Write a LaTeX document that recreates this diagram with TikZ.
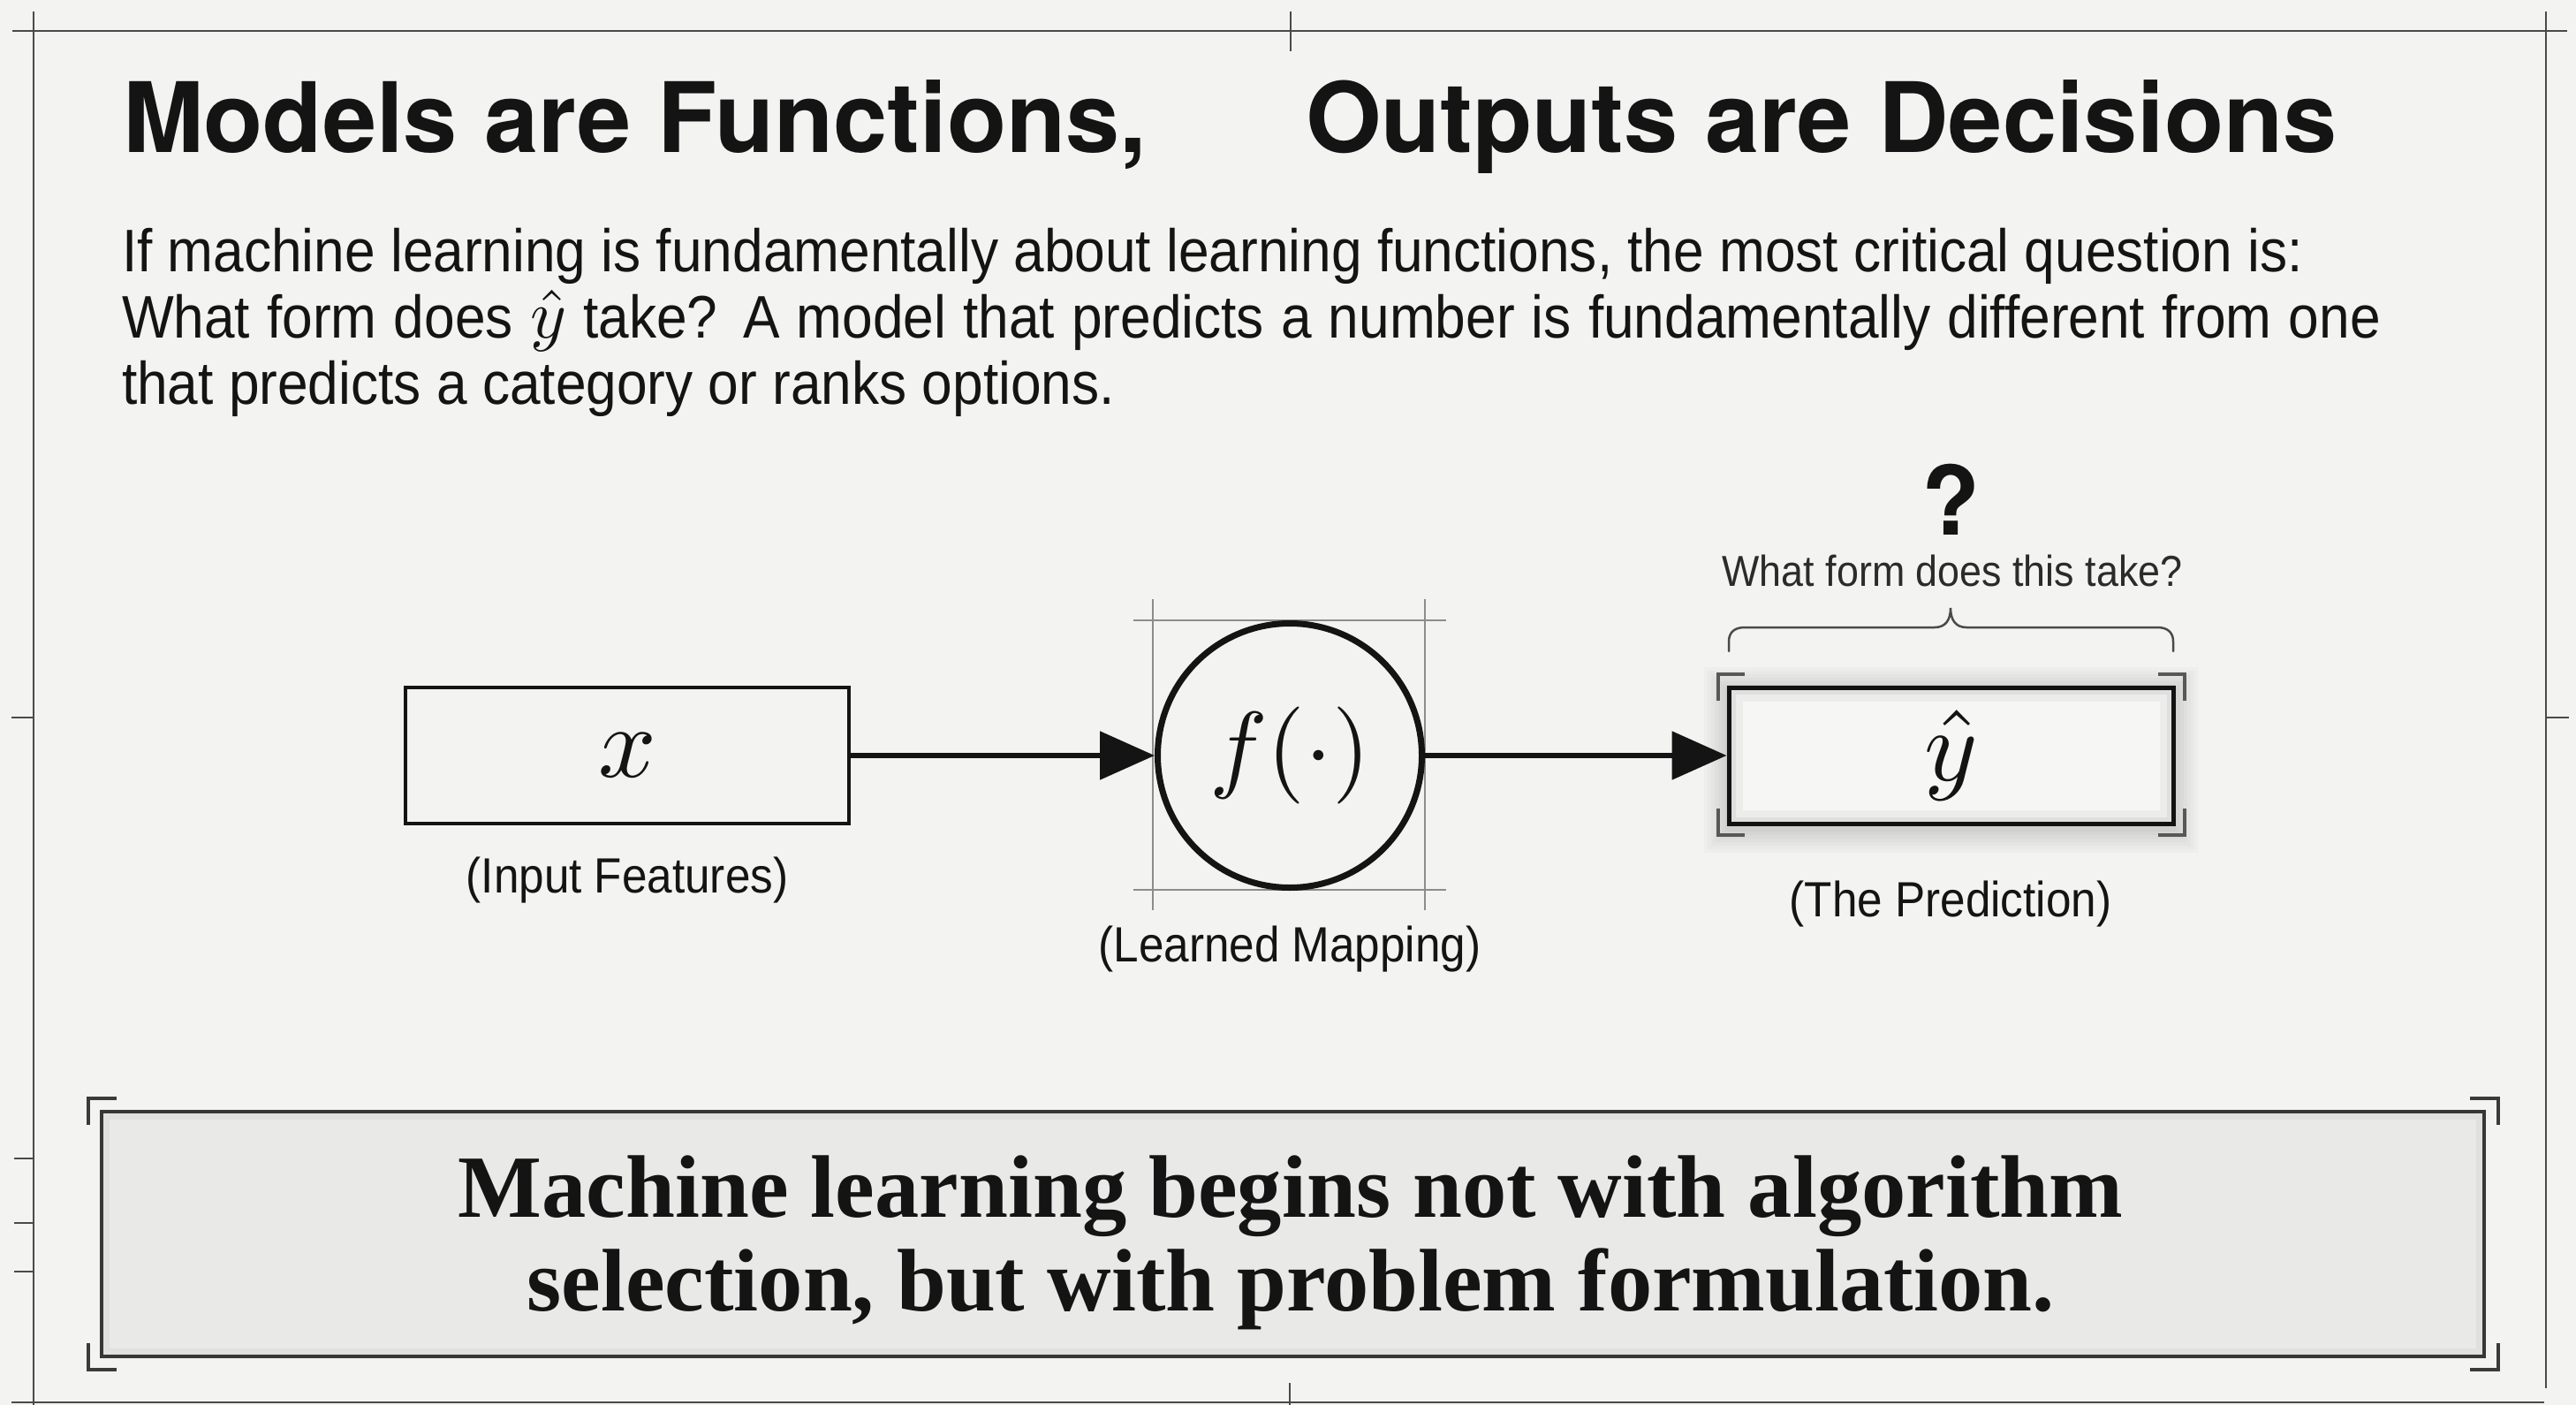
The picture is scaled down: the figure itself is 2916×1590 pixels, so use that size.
\documentclass[tikz,border=0pt]{standalone}
\usepackage{graphicx}
\usepackage{fontspec}
\usetikzlibrary{arrows.meta}
\setmainfont{Liberation Sans}
\newfontfamily\titlefont{TeX Gyre Heros}
\newfontfamily\bodyfont{Liberation Sans}[FakeStretch=0.915]
\newfontfamily\quotefont{Liberation Serif}
\definecolor{bg}{HTML}{F3F3F1}
\definecolor{ink}{HTML}{141414}
\definecolor{framec}{HTML}{4A4A4A}
\definecolor{guidec}{HTML}{8C8C8C}
\definecolor{brk}{HTML}{3A3A3A}
\definecolor{quotebg}{HTML}{E9E9E7}
\definecolor{boxin}{HTML}{F6F6F5}
\definecolor{softink}{HTML}{2B2B2B}
\newcommand\titletext{\titlefont\bfseries\fontsize{110}{120}\selectfont}
\newcommand\bodytext{\bodyfont\fontsize{68}{75}\selectfont}
\newcommand\labeltext{\bodyfont\fontsize{56}{60}\selectfont}
\newcommand\quotetext{\quotefont\bfseries\fontsize{100.5}{106}\selectfont}
\newcommand\scaledmath[2]{\scalebox{#1}{\fontsize{10}{12}\selectfont$#2$}}
\begin{document}
\begin{tikzpicture}[x=1pt,y=-1pt,
  frame/.style={draw=framec, line width=2.5pt},
  guide/.style={draw=guidec, line width=1.6pt},
  bracket/.style={draw=brk, line width=4pt},
  conn/.style={draw=ink, line width=5.5pt, -{Triangle[length=62pt,width=54pt]}},
  txt/.style={inner sep=0pt, outer sep=0pt, text=ink},
]
\fill[bg] (0,0) rectangle (2916,1590);
\useasboundingbox (0,0) rectangle (2916,1590);

% page frame
\draw[frame] (14,35) -- (2906,35);
\draw[frame] (38,13) -- (38,1590);
\draw[frame] (2882,13) -- (2882,1571);
\draw[frame] (13,1587) -- (2880,1587);
\draw[frame] (1461,13) -- (1461,58);
\draw[frame] (1460,1565) -- (1460,1590);
\draw[frame] (13,812) -- (38,812);
\draw[frame] (16,1311) -- (38,1311);
\draw[frame] (16,1384) -- (38,1384);
\draw[frame] (16,1439) -- (38,1439);
\draw[frame] (2882,812) -- (2908,812);

% title
\node[txt, anchor=base west, font=\titletext] (t1) at (139,172) {Models are Functions,};
\node[txt, anchor=base west, font=\titletext] (t2) at (1478,172) {Outputs are Decisions};

% body
\node[txt, anchor=base west, font=\bodytext] (b1) at (138,307) {\makebox[2469pt][s]{If machine learning is fundamentally about learning functions, the most critical question is:}};
\node[txt, anchor=base west, font=\bodytext] (b2) at (138,382) {\makebox[2557pt][s]{What form does \smash{\scaledmath{7.8}{\hat{y}}} take? A model that predicts a number is fundamentally different from one}};
\node[txt, anchor=base west, font=\bodytext] (b3) at (138,457) {that predicts a category or ranks options.};

% input box
\node[draw=ink, line width=3.5pt, minimum width=502pt, minimum height=154pt, inner sep=0pt, text=ink] (xbox) at (710,855) {\scaledmath{11.5}{x}};
\node[txt, anchor=base, font=\labeltext] (lx) at (710,1010) {(Input Features)};

% function circle with guides
\draw[guide] (1283,702) -- (1637,702);
\draw[guide] (1283,1007) -- (1637,1007);
\draw[guide] (1305,678) -- (1305,1030);
\draw[guide] (1613,678) -- (1613,1030);
\node[circle, draw=ink, line width=7pt, minimum size=299pt, inner sep=0pt, text=ink] (f) at (1460,855) {\scaledmath{11}{f(\cdot)}};
\node[txt, anchor=base, font=\labeltext] (lf) at (1460,1088) {(Learned Mapping)};

% prediction box with glow
\foreach \e in {4,8,...,28} {
  \fill[black, opacity=0.02] ({1957-\e},{778-\e+5}) rectangle ({2460+\e},{932+\e+5});
}
\node[draw=ink, line width=5pt, fill=boxin, minimum width=503pt, minimum height=154pt, inner sep=0pt, text=ink] (yhat) at (2208.5,855) {\scaledmath{11.5}{\hat{y}}};
\begin{scope}
  \clip (yhat.south west) rectangle (yhat.north east);
  \draw[black, opacity=0.04, line width=36pt] (yhat.south west) rectangle (yhat.north east);
  \draw[black, opacity=0.05, line width=20pt] (yhat.south west) rectangle (yhat.north east);
\end{scope}
\draw[bracket, draw=brk!85] (1945,793) -- (1945,763) -- (1975,763);
\draw[bracket, draw=brk!85] (2443,763) -- (2473,763) -- (2473,793);
\draw[bracket, draw=brk!85] (1945,915) -- (1945,945) -- (1975,945);
\draw[bracket, draw=brk!85] (2443,945) -- (2473,945) -- (2473,915);
\node[txt, anchor=base, font=\labeltext] (ly) at (2208,1037) {(The Prediction)};

% question above
\node[txt, anchor=base, font=\titlefont\bfseries\fontsize{108}{110}\selectfont] (qm) at (2208,605) {?};
\node[txt, anchor=base, font=\bodyfont\fontsize{49}{52}\selectfont, text=softink] (wq) at (2210,663) {What form does this take?};
\draw[draw=framec, line width=2.5pt, line cap=round]
  (1957,737) -- (1957,726) .. controls (1957,716) and (1963,710) .. (1975,710)
  -- (2190,710) .. controls (2202,710) and (2208,702) .. (2208,688)
  .. controls (2208,702) and (2214,710) .. (2226,710)
  -- (2442,710) .. controls (2454,710) and (2460,716) .. (2460,726) -- (2460,737);

% connectors
\draw[conn] (xbox.east) -- (f.west);
\draw[conn] (f.east) -- (yhat.west);

% bottom quote box
\node[draw=brk, line width=4pt, fill=quotebg, minimum width=2697pt, minimum height=277pt, inner sep=0pt] (qbox) at (1463.5,1396.5) {};
\begin{scope}
  \clip (qbox.south west) rectangle (qbox.north east);
  \draw[black, opacity=0.035, line width=22pt] (qbox.south west) rectangle (qbox.north east);
\end{scope}
\draw[bracket] (100,1273) -- (100,1243) -- (132,1243);
\draw[bracket] (2796,1243) -- (2828,1243) -- (2828,1273);
\draw[bracket] (100,1520) -- (100,1550) -- (132,1550);
\draw[bracket] (2796,1550) -- (2828,1550) -- (2828,1520);
\node[txt, anchor=base, font=\quotetext, text=ink] (q1) at (1461,1377) {Machine learning begins not with algorithm};
\node[txt, anchor=base, font=\quotetext, text=ink] (q2) at (1461,1483) {selection, but with problem formulation.};
\end{tikzpicture}
\end{document}
